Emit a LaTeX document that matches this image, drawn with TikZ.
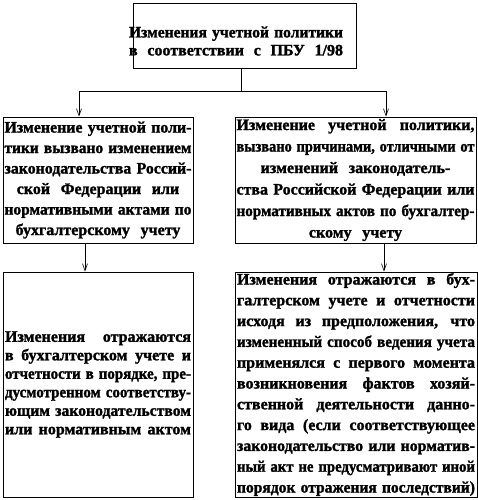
\documentclass[tikz,border=0pt]{standalone}
\usepackage{fontspec}
\setmainfont{Liberation Serif}[BoldFeatures={FakeBold=1.5}]
\usepackage{graphicx}
\usetikzlibrary{arrows.meta}
\newsavebox\lbox
\newlength\lw
\newcommand\fl[1]{\leavevmode\sbox\lbox{#1}\setlength\lw{\wd\lbox}\ifdim\lw>\hsize\pgfmathsetmacro\fr{\hsize/\lw}\scalebox{\fr}[1]{\usebox\lbox}\else\hbox to\hsize{\spaceskip=.3em plus 1fil\xspaceskip=.3em plus 1fil\relax#1}\fi}
\begin{document}
\begin{tikzpicture}[x=1pt,y=-1pt,
  box/.style={draw,line width=0.8pt,inner sep=0pt,align=center,
    font={\fontsize{16}{20.5}\selectfont\bfseries}},
  txt/.style={inner sep=0pt,align=center,font={\fontsize{16}{18}\selectfont\bfseries}},
  arr/.style={line width=0.6pt,-{Straight Barb[length=7pt,width=5pt]}},
  ln/.style={line width=0.6pt}]
\useasboundingbox (0,0) rectangle (478,500);
\node[box,minimum width=223pt,minimum height=65pt] (top) at (244.5,35.5) {};
\node[txt,text width=214pt] (toptext) at (236,41)
  {\fl{Изменения учетной политики}\\\fl{в соответствии с ПБУ 1/98}};
\node[box,minimum width=190pt,minimum height=126pt,text width=187pt] (lm) at (98,180)
  {\fl{Изменение учетной поли-}\\
   \fl{тики вызвано изменением}\\
   \fl{законодательства Россий-}\\
   ской\ \ Федерации\ \ или\\
   \fl{нормативными актами по}\\
   бухгалтерскому\ \ учету};
\node[box,minimum width=241pt,minimum height=126pt,text width=238pt,
  font={\fontsize{16}{21.5}\selectfont\bfseries}] (rm) at (355.5,180)
  {\fl{Изменение учетной политики,}\\
   \fl{вызвано причинами, отличными от}\\
   изменений\ \ законодатель-\\
   \fl{ства Российской Федерации или}\\
   \fl{нормативных актов по бухгалтер-}\\
   скому\ \ учету};
\node[box,minimum width=190pt,minimum height=225pt,text width=186pt,
  font={\fontsize{16}{18.5}\selectfont\bfseries}] (lb) at (98,384.5)
  {\fl{Изменения отражаются}\\
   \fl{в бухгалтерском учете и}\\
   \fl{отчетности в порядке, пре-}\\
   \fl{дусмотренном соответству-}\\
   \fl{ющим законодательством}\\
   \fl{или нормативным актом}};
\node[box,minimum width=242pt,minimum height=225pt,text width=238pt,
  font={\fontsize{16}{20.8}\selectfont\bfseries}] (rb) at (356,384.5)
  {\fl{Изменения отражаются в бух-}\\
   \fl{галтерском учете и отчетности}\\
   \fl{исходя из предположения, что}\\
   \fl{измененный способ ведения учета}\\
   \fl{применялся с первого момента}\\
   \fl{возникновения фактов хозяй-}\\
   \fl{ственной деятельности данно-}\\
   \fl{го вида (если соответствующее}\\
   \fl{законодательство или норматив-}\\
   \fl{ный акт не предусматривают иной}\\
   \fl{порядок отражения последствий)}};
\coordinate (jt) at (241,91);
\coordinate (jl) at (79,91);
\coordinate (jr) at (386,91);
\coordinate (al) at (85,0);
\coordinate (ar) at (384,0);
\draw[ln] (top.south -| jt) -- (jt);
\draw[ln] (jl) -- (jr);
\draw[arr] (jl) -- (lm.north -| jl);
\draw[arr] (jr) -- (rm.north -| jr);
\draw[arr] (lm.south -| al) -- (lb.north -| al);
\draw[arr] (rm.south -| ar) -- (rb.north -| ar);
\end{tikzpicture}
\end{document}
